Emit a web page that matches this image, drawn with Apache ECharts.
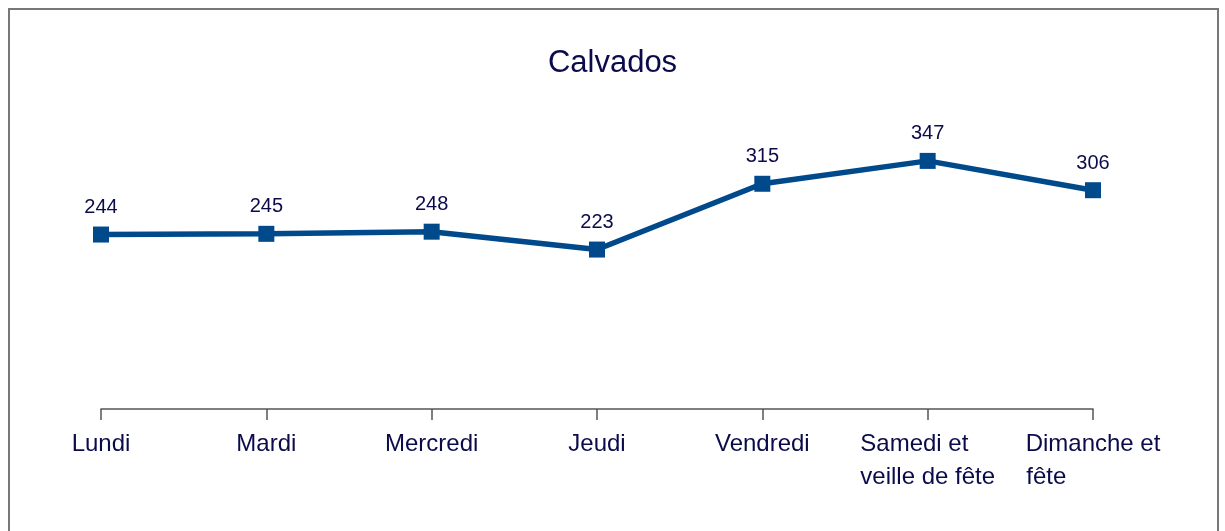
<!DOCTYPE html>
<html>
<head>
<meta charset="utf-8">
<script src="https://cdn.jsdelivr.net/npm/echarts@6/dist/echarts.min.js"></script>
<style>
    html, body { margin: 0; padding: 0; background: #fff; }
    #chart { width: 1225px; height: 531px; }
</style>
</head>
<body>
<div id="chart"></div>
<script>
const categories = ["Lundi", "Mardi", "Mercredi", "Jeudi", "Vendredi", "Samedi et\nveille de fête", "Dimanche et\nfête"];
const values = [244, 245, 248, 223, 315, 347, 306];

const textColor = "#0b0b4b";
const lineColor = "#004a8c";
const labelFont = "24px 'Liberation Sans', Arial, sans-serif";

// lines of a multi-line label are left aligned in the source: pad shorter ones with spaces
const ctx = document.createElement("canvas").getContext("2d");
ctx.font = labelFont;
function padLines(text) {
    const lines = text.split("\n");
    if (lines.length < 2) return text;
    const widths = lines.map((l) => ctx.measureText(l).width);
    const maxW = Math.max(...widths);
    const space = ctx.measureText(" ").width;
    return lines
        .map((l, i) => l + " ".repeat(Math.round((maxW - widths[i]) / space)))
        .join("\n");
}

const chart = echarts.init(document.getElementById("chart"));
chart.setOption({
    animation: false,
    textStyle: { fontFamily: "'Liberation Sans', Arial, sans-serif" },
    title: {
        text: "Calvados",
        left: "center",
        top: 43,
        textStyle: { color: textColor, fontSize: 31, fontWeight: "normal" },
    },
    graphic: [
        {
            type: "rect",
            shape: { x: 9, y: 9, width: 1209, height: 600 },
            style: { fill: "none", stroke: "#777", lineWidth: 2 },
            silent: true,
        },
    ],
    grid: { left: 101, right: 132, top: 123, bottom: 122 },
    xAxis: {
        type: "category",
        data: categories,
        boundaryGap: false,
        axisLine: { lineStyle: { color: "#555", width: 1.5 } },
        axisTick: { length: 11, lineStyle: { color: "#555", width: 1.5 } },
        axisLabel: {
            color: textColor,
            fontSize: 24,
            lineHeight: 33,
            margin: 19,
            interval: 0,
            formatter: padLines,
        },
    },
    yAxis: {
        type: "value",
        min: 0,
        max: 400,
        show: false,
        splitLine: { show: false },
    },
    series: [
        {
            type: "line",
            data: values,
            symbol: "rect",
            symbolSize: 16,
            itemStyle: { color: lineColor },
            lineStyle: { color: lineColor, width: 5.5 },
            label: {
                show: true,
                position: "top",
                distance: 9,
                color: textColor,
                fontSize: 20,
            },
        },
    ],
});
</script>
</body>
</html>
